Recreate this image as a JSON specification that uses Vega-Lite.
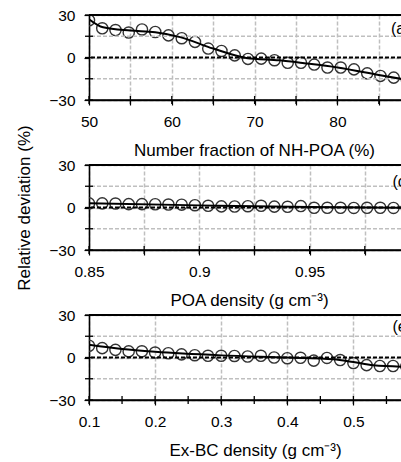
{
  "$schema": "https://vega.github.io/schema/vega-lite/v6.json",
  "padding": {"left": 15, "top": 8, "right": 0, "bottom": 0},
  "bounds": "flush",
  "spacing": 65,
  "datasets": {
    "one": [{"k": 1}],
    "grid": [{"y": -15}, {"y": 15}],
    "yt": [{"y": -30}, {"y": -15}, {"y": 0}, {"y": 15}, {"y": 30}],
    "a_xt": [{"x": 50}, {"x": 55}, {"x": 60}, {"x": 65}, {"x": 70}, {"x": 75}, {"x": 80}, {"x": 85}],
    "c_xt": [{"x": 0.85}, {"x": 0.875}, {"x": 0.9}, {"x": 0.925}, {"x": 0.95}, {"x": 0.975}],
    "e_xt": [{"x": 0.1}, {"x": 0.15}, {"x": 0.2}, {"x": 0.25}, {"x": 0.3}, {"x": 0.35}, {"x": 0.4}, {"x": 0.45}, {"x": 0.5}, {"x": 0.55}],
    "a_pts": [
      {"x": 50, "y": 26.3}, {"x": 51.6, "y": 20.6}, {"x": 53.2, "y": 19.4}, {"x": 54.8, "y": 17.6},
      {"x": 56.4, "y": 19.8}, {"x": 58, "y": 18}, {"x": 59.6, "y": 15.6}, {"x": 61.2, "y": 13.6},
      {"x": 62.8, "y": 11}, {"x": 64.4, "y": 6.3}, {"x": 66, "y": 4.6}, {"x": 67.6, "y": 1.5},
      {"x": 69.2, "y": -1}, {"x": 70.8, "y": -0.8}, {"x": 72.4, "y": -1.9}, {"x": 74, "y": -3.7},
      {"x": 75.6, "y": -3.7}, {"x": 77.2, "y": -5}, {"x": 78.8, "y": -7.1}, {"x": 80.4, "y": -7.1},
      {"x": 82, "y": -8.4}, {"x": 83.6, "y": -11.2}, {"x": 85.2, "y": -13}, {"x": 86.8, "y": -14.2},
      {"x": 88.4, "y": -15.8}, {"x": 90, "y": -17.2}
    ],
    "a_fit": [
      {"x": 50, "y": 27}, {"x": 51.7, "y": 21.3}, {"x": 55, "y": 19}, {"x": 58, "y": 17.8},
      {"x": 61, "y": 14.4}, {"x": 65, "y": 6.3}, {"x": 69, "y": -0.3}, {"x": 73, "y": -2},
      {"x": 76, "y": -4}, {"x": 80, "y": -7}, {"x": 85, "y": -12.3}, {"x": 90, "y": -17.5}
    ],
    "c_pts": [
      {"x": 0.85, "y": 2.9}, {"x": 0.856, "y": 2.9}, {"x": 0.862, "y": 2.8}, {"x": 0.868, "y": 2.4},
      {"x": 0.874, "y": 2.4}, {"x": 0.88, "y": 2.3}, {"x": 0.886, "y": 2.1}, {"x": 0.892, "y": 2},
      {"x": 0.898, "y": 1.6}, {"x": 0.904, "y": 1.2}, {"x": 0.91, "y": 0.8}, {"x": 0.916, "y": 0.7},
      {"x": 0.922, "y": 0.9}, {"x": 0.928, "y": 1.2}, {"x": 0.934, "y": 0.6}, {"x": 0.94, "y": 0.5},
      {"x": 0.946, "y": 1}, {"x": 0.952, "y": -0.2}, {"x": 0.958, "y": -0.2}, {"x": 0.964, "y": -0.2},
      {"x": 0.97, "y": -0.3}, {"x": 0.976, "y": -0.2}, {"x": 0.982, "y": -0.2}, {"x": 0.988, "y": -0.3},
      {"x": 0.994, "y": -0.3}, {"x": 1, "y": -0.3}
    ],
    "c_fit": [
      {"x": 0.85, "y": 3}, {"x": 0.9, "y": 1.5}, {"x": 0.95, "y": 0.3}, {"x": 1, "y": -0.3}
    ],
    "e_pts": [
      {"x": 0.1, "y": 8.3}, {"x": 0.12, "y": 6.6}, {"x": 0.14, "y": 5.4}, {"x": 0.16, "y": 4.3},
      {"x": 0.18, "y": 4.4}, {"x": 0.2, "y": 3.5}, {"x": 0.22, "y": 3}, {"x": 0.24, "y": 2.2},
      {"x": 0.26, "y": 1.6}, {"x": 0.28, "y": 1.2}, {"x": 0.3, "y": 1.2}, {"x": 0.32, "y": 1.1},
      {"x": 0.34, "y": 0.7}, {"x": 0.36, "y": 1.2}, {"x": 0.38, "y": 0}, {"x": 0.4, "y": -0.5},
      {"x": 0.42, "y": -0.2}, {"x": 0.44, "y": -2.2}, {"x": 0.46, "y": -0.3}, {"x": 0.48, "y": -1.8},
      {"x": 0.5, "y": -3.9}, {"x": 0.52, "y": -5.4}, {"x": 0.54, "y": -6}, {"x": 0.56, "y": -6},
      {"x": 0.58, "y": -6.3}, {"x": 0.6, "y": -6.5}
    ],
    "e_fit": [
      {"x": 0.1, "y": 9}, {"x": 0.15, "y": 6}, {"x": 0.2, "y": 4}, {"x": 0.3, "y": 1.5},
      {"x": 0.4, "y": 0}, {"x": 0.47, "y": -1.2}, {"x": 0.5, "y": -3.2}, {"x": 0.53, "y": -5.5},
      {"x": 0.6, "y": -6.8}
    ]
  },
  "vconcat": [
    {
      "width": 312,
      "height": 85,
      "layer": [
        {
          "data": {"name": "a_pts"},
          "mark": {"type": "point", "filled": false, "stroke": "#333", "strokeWidth": 1.4, "size": 125, "opacity": 1, "clip": true},
          "encoding": {
            "x": {
              "field": "x", "type": "quantitative",
              "scale": {"domain": [50, 87.68], "nice": false, "zero": false},
              "axis": {
                "title": "Number  fraction of NH-POA  (%)",
                "values": [50, 55, 60, 65, 70, 75, 80, 85],
                "labelExpr": "datum.value % 10 === 0 ? datum.label : ''",
                "titleX": 165
              }
            },
            "y": {
              "field": "y", "type": "quantitative",
              "scale": {"domain": [-30, 30], "nice": false, "zero": false},
              "axis": {
                "title": null,
                "values": [-30, -15, 0, 15, 30],
                "labelExpr": "datum.value === 30 ? '30' : datum.value === 0 ? '0' : datum.value === -30 ? '−30' : ''"
              }
            }
          }
        },
        {
          "data": {"name": "grid"},
          "mark": {"type": "rule", "color": "#bfbfbf", "strokeWidth": 1.5, "strokeDash": [4, 2]},
          "encoding": {"y": {"field": "y", "type": "quantitative"}}
        },
        {
          "data": {"name": "one"},
          "mark": {"type": "rule", "color": "#000", "strokeWidth": 1.8, "strokeDash": [4, 2]},
          "encoding": {"y": {"datum": 0, "type": "quantitative"}}
        },
        {
          "data": {"name": "one"},
          "mark": {"type": "rule", "color": "#000", "strokeWidth": 2},
          "encoding": {"y": {"datum": 30, "type": "quantitative"}}
        },
        {
          "data": {"name": "one"},
          "mark": {"type": "rule", "color": "#000", "strokeWidth": 1.6},
          "encoding": {"y": {"datum": -30, "type": "quantitative"}}
        },
        {
          "data": {"name": "a_xt"},
          "mark": {"type": "tick", "orient": "vertical", "color": "#000", "size": 8, "thickness": 1.3, "opacity": 1},
          "encoding": {"x": {"field": "x", "type": "quantitative"}, "y": {"datum": -30, "type": "quantitative"}}
        },
        {
          "data": {"name": "yt"},
          "mark": {"type": "tick", "orient": "horizontal", "color": "#000", "size": 8, "thickness": 1.3, "opacity": 1},
          "encoding": {"y": {"field": "y", "type": "quantitative"}, "x": {"datum": 50, "type": "quantitative"}}
        },
        {
          "data": {"name": "a_fit"},
          "mark": {"type": "line", "color": "#000", "strokeWidth": 2, "interpolate": "monotone", "clip": true},
          "encoding": {
            "x": {"field": "x", "type": "quantitative"},
            "y": {"field": "y", "type": "quantitative"}
          }
        },
        {
          "data": {"name": "one"},
          "mark": {"type": "text", "align": "left", "baseline": "middle", "fontSize": 16, "font": "Liberation Sans", "color": "#000", "clip": true},
          "encoding": {
            "x": {"datum": 86.47, "type": "quantitative"},
            "y": {"datum": 20.3, "type": "quantitative"},
            "text": {"value": "(a)"}
          }
        }
      ]
    },
    {
      "width": 312,
      "height": 85,
      "layer": [
        {
          "data": {"name": "c_pts"},
          "mark": {"type": "point", "filled": false, "stroke": "#333", "strokeWidth": 1.4, "size": 125, "opacity": 1, "clip": true},
          "encoding": {
            "x": {
              "field": "x", "type": "quantitative",
              "scale": {"domain": [0.85, 0.9914], "nice": false, "zero": false},
              "axis": {
                "title": "POA density (g cm⁻³)",
                "values": [0.85, 0.875, 0.9, 0.925, 0.95, 0.975],
                "labelExpr": "datum.value === 0.85 ? '0.85' : datum.value === 0.9 ? '0.9' : datum.value === 0.95 ? '0.95' : ''",
                "titleX": 160
              }
            },
            "y": {
              "field": "y", "type": "quantitative",
              "scale": {"domain": [-30, 30], "nice": false, "zero": false},
              "axis": {
                "title": "Relative deviation (%)",
                "titlePadding": 15,
                "values": [-30, -15, 0, 15, 30],
                "labelExpr": "datum.value === 30 ? '30' : datum.value === 0 ? '0' : datum.value === -30 ? '−30' : ''"
              }
            }
          }
        },
        {
          "data": {"name": "grid"},
          "mark": {"type": "rule", "color": "#bfbfbf", "strokeWidth": 1.5, "strokeDash": [4, 2]},
          "encoding": {"y": {"field": "y", "type": "quantitative"}}
        },
        {
          "data": {"name": "one"},
          "mark": {"type": "rule", "color": "#000", "strokeWidth": 1.8, "strokeDash": [4, 2]},
          "encoding": {"y": {"datum": 0, "type": "quantitative"}}
        },
        {
          "data": {"name": "one"},
          "mark": {"type": "rule", "color": "#000", "strokeWidth": 2},
          "encoding": {"y": {"datum": 30, "type": "quantitative"}}
        },
        {
          "data": {"name": "one"},
          "mark": {"type": "rule", "color": "#000", "strokeWidth": 1.6},
          "encoding": {"y": {"datum": -30, "type": "quantitative"}}
        },
        {
          "data": {"name": "c_xt"},
          "mark": {"type": "tick", "orient": "vertical", "color": "#000", "size": 8, "thickness": 1.3, "opacity": 1},
          "encoding": {"x": {"field": "x", "type": "quantitative"}, "y": {"datum": -30, "type": "quantitative"}}
        },
        {
          "data": {"name": "yt"},
          "mark": {"type": "tick", "orient": "horizontal", "color": "#000", "size": 8, "thickness": 1.3, "opacity": 1},
          "encoding": {"y": {"field": "y", "type": "quantitative"}, "x": {"datum": 0.85, "type": "quantitative"}}
        },
        {
          "data": {"name": "c_fit"},
          "mark": {"type": "line", "color": "#000", "strokeWidth": 2, "interpolate": "monotone", "clip": true},
          "encoding": {
            "x": {"field": "x", "type": "quantitative"},
            "y": {"field": "y", "type": "quantitative"}
          }
        },
        {
          "data": {"name": "one"},
          "mark": {"type": "text", "align": "left", "baseline": "middle", "fontSize": 16, "font": "Liberation Sans", "color": "#000", "clip": true},
          "encoding": {
            "x": {"datum": 0.9875, "type": "quantitative"},
            "y": {"datum": 17.9, "type": "quantitative"},
            "text": {"value": "(c)"}
          }
        }
      ]
    },
    {
      "width": 312,
      "height": 85,
      "layer": [
        {
          "data": {"name": "e_pts"},
          "mark": {"type": "point", "filled": false, "stroke": "#333", "strokeWidth": 1.4, "size": 125, "opacity": 1, "clip": true},
          "encoding": {
            "x": {
              "field": "x", "type": "quantitative",
              "scale": {"domain": [0.1, 0.572], "nice": false, "zero": false},
              "axis": {
                "title": "Ex-BC density (g cm⁻³)",
                "values": [0.1, 0.15, 0.2, 0.25, 0.3, 0.35, 0.4, 0.45, 0.5, 0.55],
                "labelExpr": "indexof([0.1, 0.2, 0.3, 0.4, 0.5], datum.value) >= 0 ? format(datum.value, '.1f') : ''",
                "titleX": 166
              }
            },
            "y": {
              "field": "y", "type": "quantitative",
              "scale": {"domain": [-30, 30], "nice": false, "zero": false},
              "axis": {
                "title": null,
                "values": [-30, -15, 0, 15, 30],
                "labelExpr": "datum.value === 30 ? '30' : datum.value === 0 ? '0' : datum.value === -30 ? '−30' : ''"
              }
            }
          }
        },
        {
          "data": {"name": "grid"},
          "mark": {"type": "rule", "color": "#bfbfbf", "strokeWidth": 1.5, "strokeDash": [4, 2]},
          "encoding": {"y": {"field": "y", "type": "quantitative"}}
        },
        {
          "data": {"name": "one"},
          "mark": {"type": "rule", "color": "#000", "strokeWidth": 1.8, "strokeDash": [4, 2]},
          "encoding": {"y": {"datum": 0, "type": "quantitative"}}
        },
        {
          "data": {"name": "one"},
          "mark": {"type": "rule", "color": "#000", "strokeWidth": 2},
          "encoding": {"y": {"datum": 30, "type": "quantitative"}}
        },
        {
          "data": {"name": "one"},
          "mark": {"type": "rule", "color": "#000", "strokeWidth": 1.6},
          "encoding": {"y": {"datum": -30, "type": "quantitative"}}
        },
        {
          "data": {"name": "e_xt"},
          "mark": {"type": "tick", "orient": "vertical", "color": "#000", "size": 8, "thickness": 1.3, "opacity": 1},
          "encoding": {"x": {"field": "x", "type": "quantitative"}, "y": {"datum": -30, "type": "quantitative"}}
        },
        {
          "data": {"name": "yt"},
          "mark": {"type": "tick", "orient": "horizontal", "color": "#000", "size": 8, "thickness": 1.3, "opacity": 1},
          "encoding": {"y": {"field": "y", "type": "quantitative"}, "x": {"datum": 0.1, "type": "quantitative"}}
        },
        {
          "data": {"name": "e_fit"},
          "mark": {"type": "line", "color": "#000", "strokeWidth": 2, "interpolate": "monotone", "clip": true},
          "encoding": {
            "x": {"field": "x", "type": "quantitative"},
            "y": {"field": "y", "type": "quantitative"}
          }
        },
        {
          "data": {"name": "one"},
          "mark": {"type": "text", "align": "left", "baseline": "middle", "fontSize": 16, "font": "Liberation Sans", "color": "#000", "clip": true},
          "encoding": {
            "x": {"datum": 0.559, "type": "quantitative"},
            "y": {"datum": 21.8, "type": "quantitative"},
            "text": {"value": "(e)"}
          }
        }
      ]
    }
  ],
  "config": {
    "view": {"stroke": null},
    "axis": {
      "labelFont": "Liberation Sans",
      "titleFont": "Liberation Sans",
      "labelFontSize": 15.5,
      "titleFontSize": 17,
      "titleFontWeight": "normal",
      "labelColor": "#000",
      "titleColor": "#000",
      "domainColor": "black",
      "domainWidth": 1.6,
      "tickColor": "black",
      "tickWidth": 1.2,
      "tickSize": 5,
      "labelPadding": 9,
      "labelFlush": false,
      "labelOverlap": false,
      "titlePadding": 13,
      "gridColor": "#bfbfbf",
      "gridDash": [4, 2],
      "gridWidth": 1.5
    }
  }
}
